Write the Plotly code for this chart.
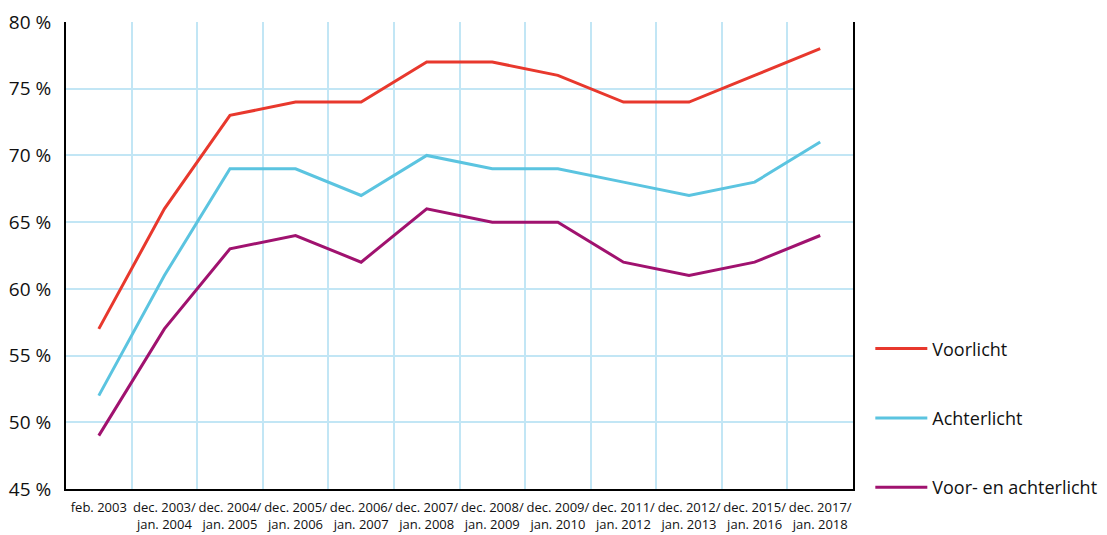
import plotly.graph_objects as go

categories = ["feb. 2003", "dec. 2003/<br>jan. 2004", "dec. 2004/<br>jan. 2005", "dec. 2005/<br>jan. 2006",
              "dec. 2006/<br>jan. 2007", "dec. 2007/<br>jan. 2008", "dec. 2008/<br>jan. 2009",
              "dec. 2009/<br>jan. 2010", "dec. 2011/<br>jan. 2012", "dec. 2012/<br>jan. 2013",
              "dec. 2015/<br>jan. 2016", "dec. 2017/<br>jan. 2018"]
voorlicht = [57, 66, 73, 74, 74, 77, 77, 76, 74, 74, 76, 78]
achterlicht = [52, 61, 69, 69, 67, 70, 69, 69, 68, 67, 68, 71]
voor_en_achter = [49, 57, 63, 64, 62, 66, 65, 65, 62, 61, 62, 64]
y_ticks = [45, 50, 55, 60, 65, 70, 75, 80]
y_tick_labels = ["45 %", "50 %", "55 %", "60 %", "65 %", "70 %", "75 %", "80 %"]

series = [
    ("Voorlicht", voorlicht, "#e8382d"),
    ("Achterlicht", achterlicht, "#5bc4e0"),
    ("Voor- en achterlicht", voor_en_achter, "#a0126f"),
]

FONT = "Open Sans"
fig = go.Figure()
for i, (name, vals, color) in enumerate(series):
    fig.add_trace(go.Scatter(x=categories, y=vals, name=name, mode="lines",
                             line=dict(color=color, width=3), legendgroup=f"g{i}"))

fig.update_layout(
    width=1107, height=535,
    margin=dict(l=58, r=262, t=14, b=54, autoexpand=False),
    plot_bgcolor="white", paper_bgcolor="white",
    font=dict(family=FONT, color="#111111"),
    showlegend=True,
    legend=dict(x=1.022, xanchor="left", y=-0.037, yanchor="bottom",
                font=dict(size=18, family=FONT, color="#111111"),
                tracegroupgap=43, traceorder="grouped", itemwidth=52,
                bgcolor="rgba(0,0,0,0)"),
)
fig.update_xaxes(
    type="category", tickson="boundaries", showgrid=True, gridcolor="#c2e6f5", gridwidth=1.5,
    showline=True, linecolor="black", linewidth=2, ticks="", automargin=False,
    tickfont=dict(size=13, family=FONT, color="#111111"), range=[-0.5, 11.5], tickangle=0,
    ticklabelstandoff=5,
)
fig.update_yaxes(
    range=[45, 80], tickvals=y_ticks, ticktext=y_tick_labels, showgrid=True, gridcolor="#c2e6f5", gridwidth=1.5,
    showline=True, linecolor="black", linewidth=2, mirror=True, ticks="", zeroline=False, automargin=False,
    tickfont=dict(size=19, family=FONT, color="#111111"), ticklabelstandoff=9,
)
fig.write_html("out.html")
